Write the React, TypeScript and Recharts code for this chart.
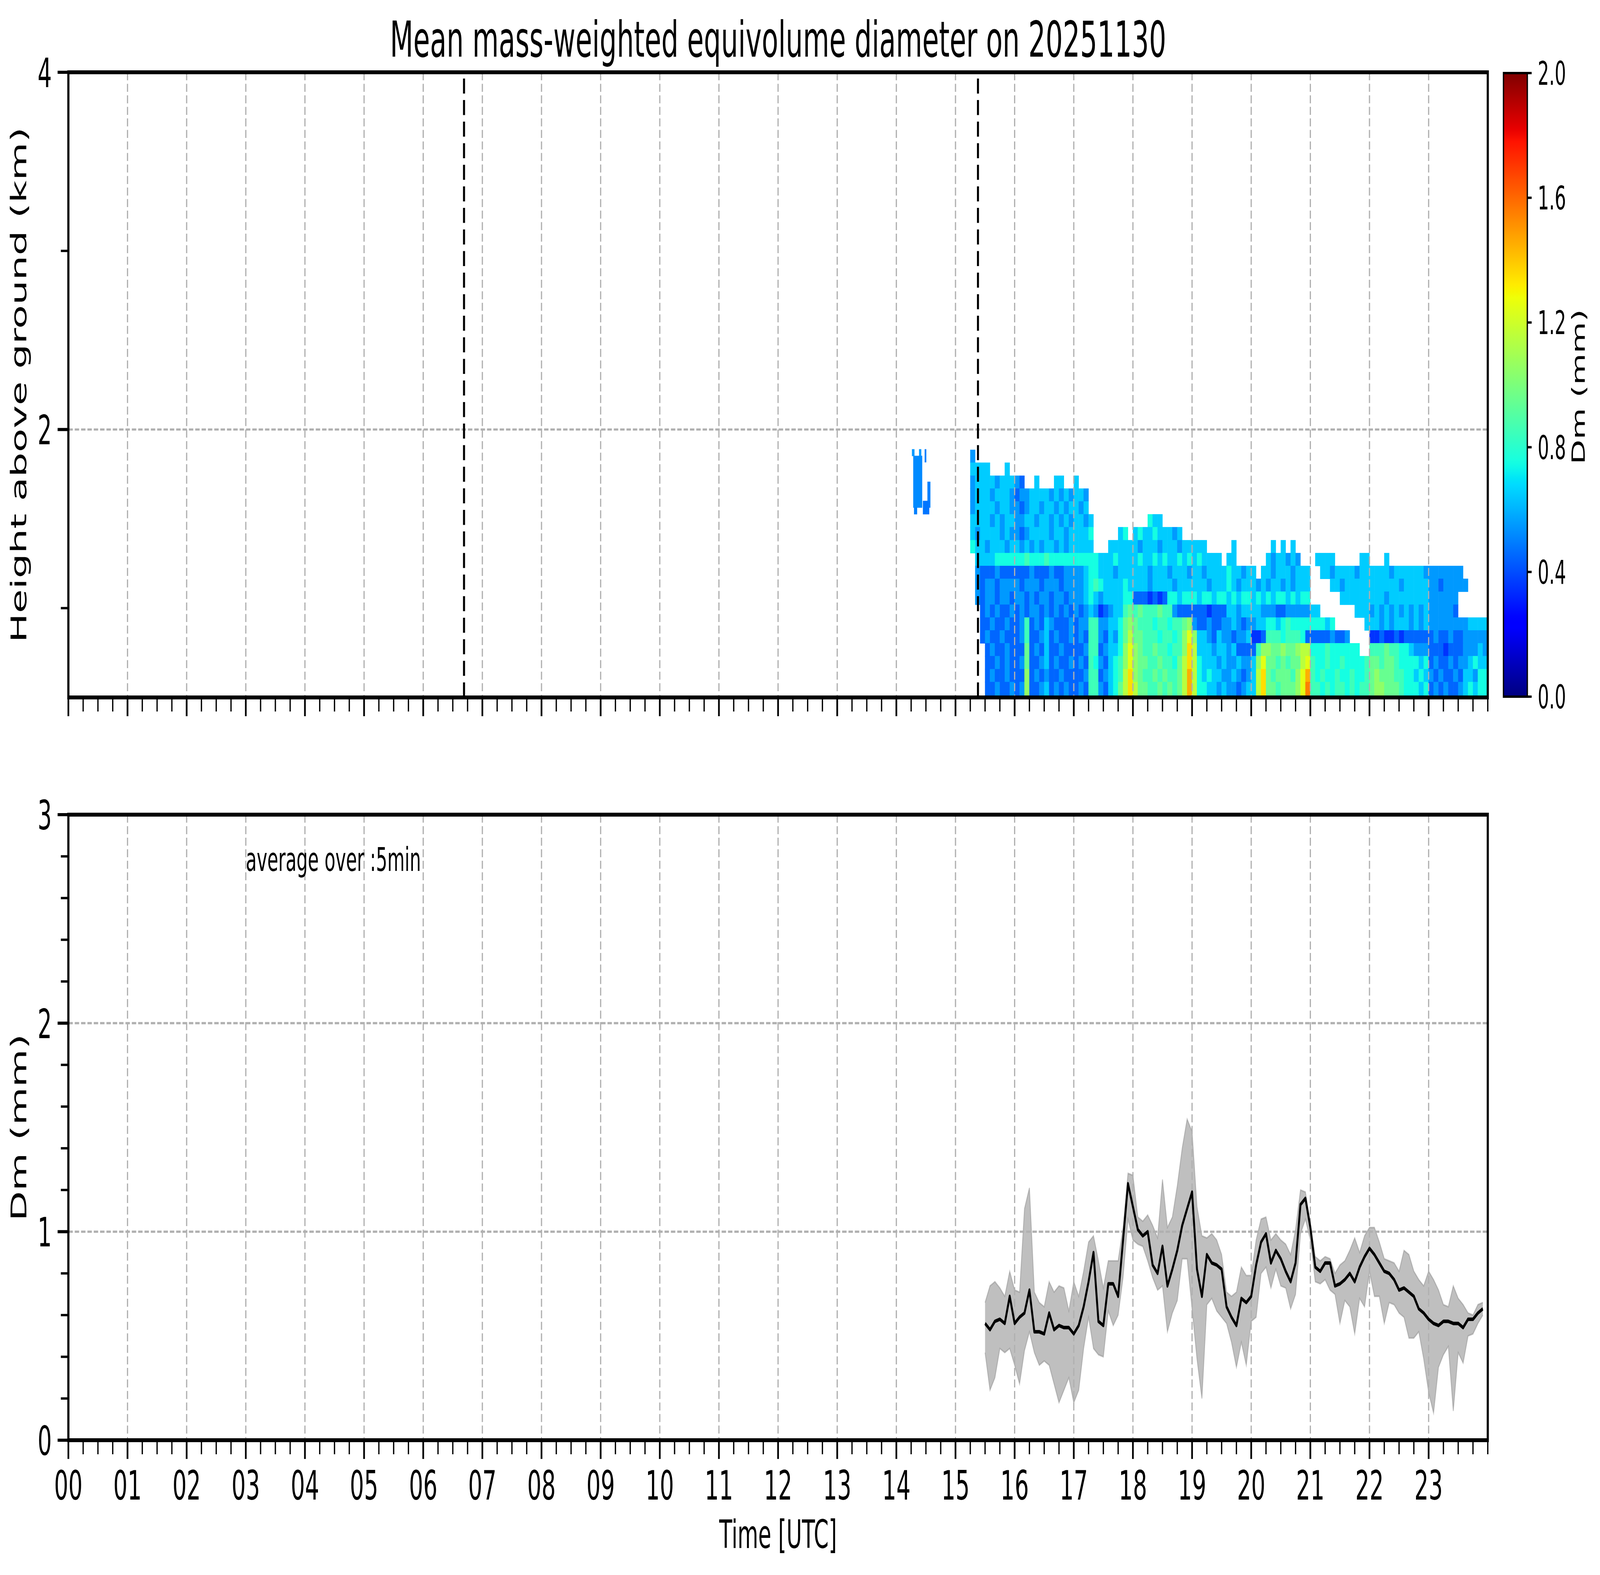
import React from "react";
import {
  ComposedChart,
  ScatterChart,
  Scatter,
  XAxis,
  YAxis,
  CartesianGrid,
  ReferenceLine,
  ReferenceArea,
  ReferenceDot,
  Area,
  Line,
} from "recharts";

// ---------------------------------------------------------------- layout
const FIG_W = 7442;
const FIG_H = 4031;
const FONT = "'DejaVu Sans', 'Liberation Sans', sans-serif";
const AX_LEFT = 318;
const AX_RIGHT = 6920;
const TOP_Y0 = 185;
const TOP_Y1 = 1785;
const BOT_Y0 = 2085;
const BOT_Y1 = 3686;
const CB_X0 = 6993;
const CB_X1 = 7104;
const CB_Y0 = 187;
const CB_Y1 = 1783;

// ---------------------------------------------------------------- axes
const TITLE = "Mean mass-weighted equivolume diameter on 20251130";
const X_DOMAIN: [number, number] = [0, 24];
const HOUR_TICKS = [0, 1, 2, 3, 4, 5, 6, 7, 8, 9, 10, 11, 12, 13, 14, 15, 16, 17, 18, 19, 20, 21, 22, 23];
const HOUR_LABELS = ["00", "01", "02", "03", "04", "05", "06", "07", "08", "09", "10", "11", "12", "13", "14", "15", "16", "17", "18", "19", "20", "21", "22", "23"];
const QUARTER_TICKS: number[] = [];
for (let q = 1; q <= 96; q++) if (q % 4 !== 0 || q === 96) QUARTER_TICKS.push(q / 4);
const TOP_Y_DOMAIN: [number, number] = [0.5, 4];
const TOP_Y_MAJOR = [2, 4];
const TOP_Y_MINOR = [1, 3];
const BOT_Y_DOMAIN: [number, number] = [0, 3];
const BOT_Y_MAJOR = [0, 1, 2, 3];
const BOT_Y_MINOR = [0.2, 0.4, 0.6, 0.8, 1.2, 1.4, 1.6, 1.8, 2.2, 2.4, 2.6, 2.8];
const CB_DOMAIN: [number, number] = [0, 2];
const CB_TICKS = [0, 0.4, 0.8, 1.2, 1.6, 2.0];
const DASHED_TIMES = [6.69, 15.38];

// ---------------------------------------------------------------- heatmap data (top panel)
const HM_START_HOUR = 15.25;
const HM_STEP_HOUR = 5 / 60;
const HM_ROW_EDGES = [0.5, 0.586, 0.658, 0.731, 0.803, 0.875, 0.947, 1.019, 1.092, 1.164, 1.236, 1.308, 1.38, 1.453, 1.525, 1.597, 1.669, 1.741, 1.814, 1.886];
const HM_ROWS = [
  "5........ ............ ............ ............ ............ ............ ............ ............ ............",
  "6666...6. ............ ............ ............ ............ ............ ............ ............ ............",
  "566665666 54..6...66.. 6........... ............ ............ ............ ............ ............ ............",
  "566656665 455666656565 665......... ............ ............ ............ ............ ............ ............",
  "566665665 545665665656 656......... ............ ............ ............ ............ ............ ............",
  "666656566 556656656565 6656........ ...766...... ............ ............ ............ ............ ............",
  "656666565 545666656656 6667.....67. 6766766656.. ............ ............ ............ ............ ............",
  "766566656 656565665656 6666...66666 656665666566 666.....6... ....6.6.6... ............ ............ ............",
  ".66667777 778777877777 777776667666 676676766767 676666.66... ...6566565.. .6666.....66 ...6........ ............",
  ".54445444 444544454455 556776665666 666566656665 665666676656 6.6656665666 ..6656666566 666656666665 5555555.....",
  ".54554555 545554555455 556787666676 666566665666 666566676566 656566565666 ....66566666 666666566666 55455555....",
  ".54554554 554545545545 556765666677 444343477677 767767767677 676767767677 ......666666 666566666666 555555......",
  "..4545445 454554545454 545653456689 898889885444 444344466566 665554455555 66.......666 565656565656 555554......",
  "..4454454 458454654445 45588556679A 98887887889A 544544556545 566776787777 77767......6 665656665656 555555556666",
  "..4544544 458445645445 45488546579B 9988878878AC A66546554556 334888788874 44445445.... 334334344444 454454455555",
  "...454454 449454644544 4458845667AC A988988788AD B66656656444 48AA99A99ABB 7778777777.. 888988776555 444344455565",
  "...445454 459445645445 4548754678AC A998898879BD B76665655655 6AC9989899BC 877877877778 998998777767 454454556766",
  "...454454 44A454544544 4458845678BD A988989889BE B76766556545 6BD989998ACE 878778778778 9A9998877676 545445466577",
  "...445445 45A445645454 4548854679BD B998898989BE B77665655456 6BD998999ACF 887878878788 9AA999877767 454544567677",
];
const LEVEL_CHARS = "0123456789ABCDEF";
const PATCH_CELLS: number[][] = [
  [14.265, 14.305, 1.852, 1.889, 0.55],
  [14.385, 14.42, 1.852, 1.889, 0.55],
  [14.48, 14.505, 1.817, 1.889, 0.5],
  [14.287, 14.436, 1.563, 1.852, 0.52],
  [14.527, 14.574, 1.563, 1.707, 0.5],
  [14.45, 14.555, 1.526, 1.6, 0.48],
  [14.3, 14.35, 1.526, 1.563, 0.5],
];

// ---------------------------------------------------------------- Dm time series (bottom panel)
const DM_TIMES = [
  "15:30", "15:35", "15:40", "15:45", "15:50", "15:55",
  "16:00", "16:05", "16:10", "16:15", "16:20", "16:25", "16:30", "16:35", "16:40", "16:45", "16:50", "16:55",
  "17:00", "17:05", "17:10", "17:15", "17:20", "17:25", "17:30", "17:35", "17:40", "17:45", "17:50", "17:55",
  "18:00", "18:05", "18:10", "18:15", "18:20", "18:25", "18:30", "18:35", "18:40", "18:45", "18:50", "18:55",
  "19:00", "19:05", "19:10", "19:15", "19:20", "19:25", "19:30", "19:35", "19:40", "19:45", "19:50", "19:55",
  "20:00", "20:05", "20:10", "20:15", "20:20", "20:25", "20:30", "20:35", "20:40", "20:45", "20:50", "20:55",
  "21:00", "21:05", "21:10", "21:15", "21:20", "21:25", "21:30", "21:35", "21:40", "21:45", "21:50", "21:55",
  "22:00", "22:05", "22:10", "22:15", "22:20", "22:25", "22:30", "22:35", "22:40", "22:45", "22:50", "22:55",
  "23:00", "23:05", "23:10", "23:15", "23:20", "23:25", "23:30", "23:35", "23:40", "23:45", "23:50", "23:55",
];
const DM_MEAN = [
  0.56, 0.53, 0.57, 0.58, 0.56, 0.69,
  0.56, 0.59, 0.61, 0.72, 0.52, 0.52, 0.51, 0.61, 0.53, 0.55, 0.54, 0.54,
  0.51, 0.55, 0.64, 0.76, 0.9, 0.57, 0.55, 0.75, 0.75, 0.69, 0.96, 1.23,
  1.12, 1.01, 0.98, 1.0, 0.84, 0.8, 0.93, 0.74, 0.82, 0.91, 1.03, 1.11,
  1.19, 0.82, 0.69, 0.89, 0.85, 0.84, 0.82, 0.64, 0.59, 0.55, 0.68, 0.66,
  0.69, 0.84, 0.95, 0.99, 0.85, 0.91, 0.87, 0.81, 0.76, 0.85, 1.13, 1.16,
  1.02, 0.83, 0.81, 0.85, 0.85, 0.74, 0.75, 0.77, 0.8, 0.76, 0.83, 0.88,
  0.92, 0.89, 0.85, 0.81, 0.8, 0.77, 0.72, 0.73, 0.71, 0.69, 0.63, 0.61,
  0.58, 0.56, 0.55, 0.57, 0.57, 0.56, 0.56, 0.54, 0.58, 0.58, 0.61, 0.63,
];
const DM_HIGH = [
  0.66, 0.74, 0.76, 0.73, 0.69, 0.81,
  0.72, 0.71, 1.11, 1.21, 0.71, 0.66, 0.64, 0.76, 0.71, 0.74, 0.73, 0.62,
  0.76, 0.69, 0.81, 0.95, 0.98, 0.86, 0.73, 0.86, 0.86, 0.86, 1.02, 1.28,
  1.27, 1.07, 1.05, 1.08, 1.03, 0.97, 1.25, 1.02, 1.07, 1.22, 1.4, 1.54,
  1.48, 1.12, 0.98, 0.97, 0.99, 0.96, 0.89, 0.71, 0.69, 0.71, 0.83, 0.79,
  0.79, 0.96, 1.06, 1.07, 0.96, 0.99, 0.96, 0.94, 0.89, 1.01, 1.2, 1.19,
  1.04, 0.88, 0.86, 0.88, 0.87, 0.8, 0.84, 0.86, 0.91, 0.97, 0.9, 0.98,
  1.02, 1.02, 0.95, 0.87, 0.86, 0.85, 0.81, 0.91, 0.89, 0.81, 0.77, 0.74,
  0.81, 0.77, 0.72, 0.65, 0.64, 0.74, 0.68, 0.65, 0.61, 0.6, 0.65, 0.66,
];
const DM_LOW = [
  0.42, 0.24, 0.3, 0.44, 0.42, 0.44,
  0.36, 0.27, 0.43, 0.52, 0.42, 0.36, 0.38, 0.36, 0.27, 0.18, 0.24, 0.3,
  0.18, 0.24, 0.44, 0.59, 0.44, 0.41, 0.4, 0.62, 0.55, 0.6, 0.78, 1.06,
  0.96, 0.94, 0.93, 0.86, 0.78, 0.72, 0.74, 0.52, 0.61, 0.67, 0.87, 0.87,
  0.63, 0.39, 0.2, 0.65, 0.68, 0.62, 0.59, 0.56, 0.47, 0.35, 0.47, 0.36,
  0.57, 0.59, 0.8, 0.83, 0.73, 0.82, 0.74, 0.73, 0.63, 0.7, 0.99, 1.06,
  0.96, 0.76, 0.75, 0.77, 0.72, 0.7, 0.56, 0.67, 0.64, 0.51, 0.68, 0.64,
  0.81, 0.69, 0.69, 0.56, 0.66, 0.65, 0.61, 0.59, 0.49, 0.49, 0.52, 0.39,
  0.23, 0.13, 0.35, 0.41, 0.45, 0.14, 0.42, 0.37, 0.5, 0.51, 0.56, 0.6,
];
const ANNOTATION = { text: "average over :5min", t: 3, y: 2.73 };

// ---------------------------------------------------------------- colour map (jet)
const JET_R = [[0, 0], [0.35, 0], [0.66, 1], [0.89, 1], [1, 0.5]];
const JET_G = [[0, 0], [0.125, 0], [0.375, 1], [0.64, 1], [0.91, 0], [1, 0]];
const JET_B = [[0, 0.5], [0.11, 1], [0.34, 1], [0.65, 0], [1, 0]];
function seg(t: number, pts: number[][]) {
  for (let i = 1; i < pts.length; i++) {
    if (t <= pts[i][0]) {
      const [x0, y0] = pts[i - 1];
      const [x1, y1] = pts[i];
      return y0 + ((y1 - y0) * (t - x0)) / (x1 - x0);
    }
  }
  return pts[pts.length - 1][1];
}
function jet(t: number) {
  const u = Math.max(0, Math.min(1, t));
  const c = (v: number) => Math.round(v * 255);
  return `rgb(${c(seg(u, JET_R))},${c(seg(u, JET_G))},${c(seg(u, JET_B))})`;
}
const dmColor = (v: number) => jet((v - CB_DOMAIN[0]) / (CB_DOMAIN[1] - CB_DOMAIN[0]));

// ---------------------------------------------------------------- derived tables
type Cell = { t: number; h: number; w: number; hh: number; v: number };
const HEAT_CELLS: Cell[] = [];
HM_ROWS.forEach((rowStr, i) => {
  const r = HM_ROWS.length - 1 - i;
  const s = rowStr.replace(/ /g, "");
  for (let c = 0; c < s.length; c++) {
    const ch = s[c];
    if (ch === ".") continue;
    const t0 = HM_START_HOUR + c * HM_STEP_HOUR;
    const h0 = HM_ROW_EDGES[r];
    const h1 = r + 1 < HM_ROW_EDGES.length ? HM_ROW_EDGES[r + 1] : h0 + 0.072;
    HEAT_CELLS.push({ t: t0 + HM_STEP_HOUR / 2, h: (h0 + h1) / 2, w: HM_STEP_HOUR, hh: h1 - h0, v: LEVEL_CHARS.indexOf(ch) * 0.1 + 0.05 });
  }
});
PATCH_CELLS.forEach(([t0, t1, h0, h1, v]) => {
  HEAT_CELLS.push({ t: (t0 + t1) / 2, h: (h0 + h1) / 2, w: t1 - t0, hh: h1 - h0, v });
});

const toHours = (s: string) => {
  const [hh, mm] = s.split(":").map(Number);
  return hh + mm / 60;
};
const DM_DATA = DM_TIMES.map((s, i) => ({ t: toHours(s), mean: DM_MEAN[i], band: [DM_LOW[i], DM_HIGH[i]] }));
// colour bar: one strip spanning the full colour range
const CB_STRIP = [
  { x: 0, range: [CB_DOMAIN[0], CB_DOMAIN[1]] },
  { x: 1, range: [CB_DOMAIN[0], CB_DOMAIN[1]] },
];

const PX_PER_HOUR = (AX_RIGHT - AX_LEFT) / (X_DOMAIN[1] - X_DOMAIN[0]);
const PX_PER_KM = (TOP_Y1 - TOP_Y0) / (TOP_Y_DOMAIN[1] - TOP_Y_DOMAIN[0]);

const TOP_MARGIN = { top: TOP_Y0, bottom: FIG_H - TOP_Y1, left: AX_LEFT, right: FIG_W - AX_RIGHT };
const BOT_MARGIN = { top: BOT_Y0, bottom: FIG_H - BOT_Y1, left: AX_LEFT, right: FIG_W - AX_RIGHT };
const AXW = 1;
const TOP_MARGIN_AX = { top: TOP_Y0, bottom: FIG_H - TOP_Y1 - 2 * AXW, left: AX_LEFT - 2 * AXW, right: FIG_W - AX_RIGHT };
const BOT_MARGIN_AX = { top: BOT_Y0, bottom: FIG_H - BOT_Y1 - 2 * AXW, left: AX_LEFT - 2 * AXW, right: FIG_W - AX_RIGHT };
const CB_MARGIN = { top: CB_Y0, bottom: FIG_H - CB_Y1, left: CB_X0, right: FIG_W - CB_X1 - AXW };

// ---------------------------------------------------------------- tick renderers
const TimeTick = (props: any) => {
  const { x, y, payload, major, showLabel } = props;
  const idx = HOUR_TICKS.indexOf(payload.value);
  return (
    <g>
      <line x1={x} x2={x} y1={y} y2={y + (major ? 48 : 35)} stroke="#000" strokeWidth={major ? 8 : 6} />
      {showLabel && idx >= 0 ? (
        <text x={x} y={y + 152} textAnchor="middle" fontSize={104} fontFamily={FONT} fill="#000">
          {HOUR_LABELS[idx]}
        </text>
      ) : null}
    </g>
  );
};
const ValueTick = (props: any) => {
  const { x, y, payload, major } = props;
  return (
    <g>
      <line x1={x - (major ? 50 : 34)} x2={x} y1={y} y2={y} stroke="#000" strokeWidth={major ? 8 : 6} />
      {major ? (
        <text x={x - 77} y={y + 38} textAnchor="end" fontSize={104} fontFamily={FONT} fill="#000">
          {String(payload.value)}
        </text>
      ) : null}
    </g>
  );
};
const CbTick = (props: any) => {
  const { x, y, payload } = props;
  return (
    <g>
      <line x1={x} x2={x + 20} y1={y} y2={y} stroke="#000" strokeWidth={6} />
      <text x={x + 48} y={y + 30} textAnchor="start" fontSize={83} fontFamily={FONT} fill="#000">
        {Number(payload.value).toFixed(1)}
      </text>
    </g>
  );
};

const HeatCell = (p: any) => {
  const d: Cell = p.payload;
  if (!d || p.cx == null || p.cy == null) return <g />;
  const w = d.w * PX_PER_HOUR + 1;
  const h = d.hh * PX_PER_KM + 1;
  return <rect x={p.cx - w / 2} y={p.cy - h / 2} width={w} height={h} fill={dmColor(d.v)} />;
};

const AnnotationShape = (p: any) => (
  <text x={p.cx} y={p.cy} fontSize={83} fontFamily={FONT} fill="#000" textAnchor="start">
    {ANNOTATION.text}
  </text>
);

function timeAxes(showLabels: boolean) {
  return [
    <XAxis key="xmaj" xAxisId="maj" dataKey="t" type="number" domain={X_DOMAIN} ticks={HOUR_TICKS} interval={0} height={AXW} tickSize={0} tickMargin={0} axisLine={false} tickLine={false} allowDataOverflow tick={<TimeTick major showLabel={showLabels} />} />,
    <XAxis key="xmin" xAxisId="min" dataKey="t" type="number" domain={X_DOMAIN} ticks={QUARTER_TICKS} interval={0} height={AXW} tickSize={0} tickMargin={0} axisLine={false} tickLine={false} allowDataOverflow tick={<TimeTick />} />,
  ];
}
function valueAxes(domain: [number, number], major: number[], minor: number[]) {
  return [
    <YAxis key="ymaj" yAxisId="maj" type="number" domain={domain} ticks={major} interval={0} width={AXW} tickSize={0} tickMargin={0} axisLine={false} tickLine={false} allowDataOverflow tick={<ValueTick major />} />,
    <YAxis key="ymin" yAxisId="min" type="number" domain={domain} ticks={minor} interval={0} width={AXW} tickSize={0} tickMargin={0} axisLine={false} tickLine={false} allowDataOverflow tick={<ValueTick />} />,
  ];
}

const GRID_PROPS = { stroke: "#b0b0b0", strokeWidth: 5.6, strokeDasharray: "20.6 8.9" };
const layer: React.CSSProperties = { position: "absolute", left: 0, top: 0 };

function viewportScale() {
  if (typeof window === "undefined") return { sx: 1, sy: 1 };
  const vw = window.innerWidth || FIG_W;
  const vh = window.innerHeight || FIG_H;
  return { sx: Math.min(1, vw / FIG_W), sy: Math.min(1, vh / FIG_H) };
}

export default function App() {
  const { sx, sy } = viewportScale();
  return (
    <div style={{ position: "fixed", left: 0, top: 0, right: 0, bottom: 0, overflow: "hidden", background: "#fff" }}>
      <div
        style={{
          position: "absolute",
          left: 0,
          top: 0,
          width: FIG_W,
          height: FIG_H,
          background: "#fff",
          transform: `scale(${sx}, ${sy})`,
          transformOrigin: "0 0",
        }}
      >
        {/* gradient definition shared by the colour bar */}
        <svg width={10} height={10} style={{ position: "absolute", left: 0, top: 0 }}>
          <defs>
            <linearGradient id="jetGrad" x1="0" y1="1" x2="0" y2="0">
              {Array.from({ length: 101 }, (_, i) => (
                <stop key={i} offset={`${i}%`} stopColor={jet(i / 100)} />
              ))}
            </linearGradient>
          </defs>
        </svg>

        <div style={layer}>
          <ScatterChart width={FIG_W} height={FIG_H} margin={TOP_MARGIN}>
            <XAxis dataKey="t" type="number" domain={X_DOMAIN} hide allowDataOverflow />
            <YAxis dataKey="h" type="number" domain={TOP_Y_DOMAIN} hide allowDataOverflow />
            <Scatter data={HEAT_CELLS} shape={HeatCell} isAnimationActive={false} />
          </ScatterChart>
        </div>
        <div style={layer}>
          <ComposedChart width={FIG_W} height={FIG_H} margin={TOP_MARGIN_AX}>
            {timeAxes(false)}
            {valueAxes(TOP_Y_DOMAIN, TOP_Y_MAJOR, TOP_Y_MINOR)}
            <CartesianGrid xAxisId="maj" yAxisId="maj" {...GRID_PROPS} />
            {DASHED_TIMES.map((t) => (
              <ReferenceLine key={t} xAxisId="maj" yAxisId="maj" x={t} stroke="#000" strokeWidth={9.5} strokeDasharray="38.5 16.7" />
            ))}
            <ReferenceArea xAxisId="maj" yAxisId="maj" x1={X_DOMAIN[0]} x2={X_DOMAIN[1]} y1={TOP_Y_DOMAIN[0]} y2={TOP_Y_DOMAIN[1]} fill="none" fillOpacity={0} stroke="#000" strokeWidth={10} />
          </ComposedChart>
        </div>

        <div style={layer}>
          <ComposedChart width={FIG_W} height={FIG_H} margin={BOT_MARGIN} data={DM_DATA}>
            <XAxis dataKey="t" type="number" domain={X_DOMAIN} hide allowDataOverflow />
            <YAxis type="number" domain={BOT_Y_DOMAIN} hide allowDataOverflow />
            <Area dataKey="band" type="linear" fill="#808080" fillOpacity={0.5} stroke="#808080" strokeOpacity={0.45} strokeWidth={4} isAnimationActive={false} dot={false} activeDot={false} />
          </ComposedChart>
        </div>
        <div style={layer}>
          <ComposedChart width={FIG_W} height={FIG_H} margin={BOT_MARGIN_AX} data={DM_DATA}>
            {timeAxes(true)}
            {valueAxes(BOT_Y_DOMAIN, BOT_Y_MAJOR, BOT_Y_MINOR)}
            <CartesianGrid xAxisId="maj" yAxisId="maj" {...GRID_PROPS} />
            <Line xAxisId="maj" yAxisId="maj" dataKey="mean" type="linear" stroke="#000" strokeWidth={9} strokeLinejoin="round" dot={false} activeDot={false} isAnimationActive={false} />
            <ReferenceDot xAxisId="maj" yAxisId="maj" x={ANNOTATION.t} y={ANNOTATION.y} r={0} shape={AnnotationShape} />
            <ReferenceArea xAxisId="maj" yAxisId="maj" x1={X_DOMAIN[0]} x2={X_DOMAIN[1]} y1={BOT_Y_DOMAIN[0]} y2={BOT_Y_DOMAIN[1]} fill="none" fillOpacity={0} stroke="#000" strokeWidth={10} />
          </ComposedChart>
        </div>

        <div style={layer}>
          <ComposedChart width={FIG_W} height={FIG_H} margin={CB_MARGIN} data={CB_STRIP}>
            <XAxis dataKey="x" type="number" domain={[0, 1]} hide allowDataOverflow />
            <YAxis orientation="right" type="number" domain={CB_DOMAIN} ticks={CB_TICKS} interval={0} width={AXW} tickSize={0} tickMargin={0} axisLine={false} tickLine={false} allowDataOverflow tick={<CbTick />} />
            <Area dataKey="range" type="linear" fill="url(#jetGrad)" fillOpacity={1} stroke="none" isAnimationActive={false} dot={false} activeDot={false} />
            <ReferenceArea x1={0} x2={1} y1={CB_DOMAIN[0]} y2={CB_DOMAIN[1]} fill="none" fillOpacity={0} stroke="#000" strokeWidth={6} />
          </ComposedChart>
        </div>

        <svg width={FIG_W} height={FIG_H} style={{ position: "absolute", left: 0, top: 0, pointerEvents: "none" }} fontFamily={FONT}>
          <text x={(AX_LEFT + AX_RIGHT) / 2} y={145} textAnchor="middle" fontSize={126} fill="#000">
            {TITLE}
          </text>
          <text transform={`translate(121 ${(TOP_Y0 + TOP_Y1) / 2}) rotate(-90)`} textAnchor="middle" fontSize={100} fill="#000">
            Height above ground (km)
          </text>
          <text transform={`translate(121 ${(BOT_Y0 + BOT_Y1) / 2}) rotate(-90)`} textAnchor="middle" fontSize={100} fill="#000">
            Dm (mm)
          </text>
          <text x={(AX_LEFT + AX_RIGHT) / 2} y={3962} textAnchor="middle" fontSize={99} fill="#000">
            Time [UTC]
          </text>
          <text transform={`translate(7372 990) rotate(-90)`} textAnchor="middle" fontSize={83} fill="#000">
            Dm (mm)
          </text>
        </svg>
      </div>
    </div>
  );
}
